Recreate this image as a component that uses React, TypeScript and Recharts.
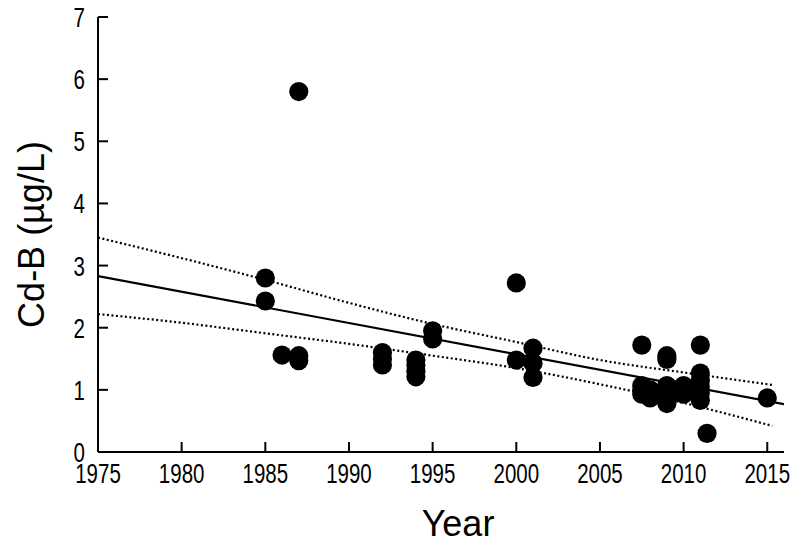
import React from 'react';
import { ComposedChart, Scatter, Line, XAxis, YAxis, Label } from 'recharts';

const pointYears = [
  1985, 1985, 1986, 1987, 1987, 1987,
  1992, 1992, 1992, 1994, 1994, 1994, 1994, 1995, 1995,
  2000, 2000, 2001, 2001, 2001,
  2007.5, 2007.5, 2007.5, 2007.5, 2008, 2008,
  2009, 2009, 2009, 2009, 2009, 2009, 2009.5,
  2010, 2010, 2010,
  2011, 2011, 2011, 2011, 2011, 2011, 2011.4, 2015,
];
const pointValues = [
  2.80, 2.43, 1.56, 5.80, 1.55, 1.47,
  1.60, 1.50, 1.40, 1.48, 1.40, 1.30, 1.21, 1.95, 1.82,
  2.72, 1.48, 1.67, 1.43, 1.20,
  1.72, 1.07, 1.00, 0.93, 1.00, 0.87,
  1.55, 1.49, 1.07, 0.95, 0.85, 0.78, 1.00,
  1.07, 1.00, 0.93,
  1.72, 1.27, 1.15, 1.05, 0.95, 0.83, 0.30, 0.87,
];

const fitYears = [1975, 2016];
const fitValues = [2.83, 0.77];

const bandYears = [1975, 1980, 1985, 1990, 1995, 2000, 2005, 2010, 2015.3];
const upperValues = [3.45, 3.12, 2.77, 2.40, 2.06, 1.77, 1.48, 1.28, 1.08];
const lowerValues = [2.22, 2.08, 1.91, 1.74, 1.55, 1.35, 1.09, 0.79, 0.42];

const xTicks = [1975, 1980, 1985, 1990, 1995, 2000, 2005, 2010, 2015];
const yTicks = [0, 1, 2, 3, 4, 5, 6, 7];

const points = pointYears.map((x, i) => ({ x, y: pointValues[i] }));
const fit = fitYears.map((x, i) => ({ x, y: fitValues[i] }));
const upper = bandYears.map((x, i) => ({ x, y: upperValues[i] }));
const lower = bandYears.map((x, i) => ({ x, y: lowerValues[i] }));

const tickFont = "'Liberation Sans', Arial, sans-serif";
const titleFont = "'Liberation Sans', Arial, sans-serif";
const DIGIT_W = 11.4;

const BottomTick = (props: any) => {
  const { x, y, payload } = props;
  const s = String(payload.value);
  return (
    <g>
      <line x1={x} x2={x} y1={y} y2={y - 10} stroke="#000" strokeWidth={2} />
      <text
        x={x}
        y={y + 31}
        textAnchor="middle"
        fontSize={27}
        fontFamily={tickFont}
        fill="#000"
        textLength={s.length * DIGIT_W}
        lengthAdjust="spacingAndGlyphs"
      >
        {s}
      </text>
    </g>
  );
};

const TopTick = (props: any) => {
  const { x, y } = props;
  return <line x1={x} x2={x} y1={y} y2={y + 10} stroke="#000" strokeWidth={2} />;
};

const LeftTick = (props: any) => {
  const { x, y, payload } = props;
  const s = String(payload.value);
  return (
    <g>
      <line x1={x} x2={x + 10} y1={y} y2={y} stroke="#000" strokeWidth={2} />
      <text
        x={x - 13}
        y={y + 10}
        textAnchor="end"
        fontSize={27}
        fontFamily={tickFont}
        fill="#000"
        textLength={s.length * DIGIT_W}
        lengthAdjust="spacingAndGlyphs"
      >
        {s}
      </text>
    </g>
  );
};

const RightTick = (props: any) => {
  const { x, y } = props;
  return <line x1={x} x2={x - 10} y1={y} y2={y} stroke="#000" strokeWidth={2} />;
};

const Dot = (props: any) => {
  const { cx, cy } = props;
  return <circle cx={cx} cy={cy} r={9.6} fill="#000" />;
};

export default function App() {
  return (
    <div style={{ position: 'absolute', left: 0, top: 0, background: '#fff' }}>
      <ComposedChart width={796} height={548} margin={{ top: 17, right: 12, left: 0, bottom: 0 }}>
        <XAxis
          dataKey="x"
          type="number"
          domain={[1975, 2016]}
          ticks={xTicks}
          interval={0}
          allowDataOverflow
          height={96}
          tickSize={0}
          tickMargin={0}
          tickLine={false}
          tick={<BottomTick />}
          axisLine={{ stroke: '#000', strokeWidth: 2 }}
        >
          <Label
            value="Year"
            position="insideBottom"
            offset={12}
            dx={17}
            style={{ fontSize: 36, fontFamily: titleFont, fill: '#000' }}
          />
        </XAxis>
        <XAxis
          xAxisId="top"
          orientation="top"
          dataKey="x"
          type="number"
          domain={[1975, 2016]}
          ticks={xTicks}
          interval={0}
          allowDataOverflow
          height={0}
          tickSize={0}
          tickMargin={0}
          tickLine={false}
          tick={<TopTick />}
          axisLine={{ stroke: '#000', strokeWidth: 2 }}
        />
        <YAxis
          dataKey="y"
          type="number"
          domain={[0, 7]}
          ticks={yTicks}
          interval={0}
          allowDataOverflow
          width={98}
          tickSize={0}
          tickMargin={0}
          tickLine={false}
          tick={<LeftTick />}
          axisLine={{ stroke: '#000', strokeWidth: 2 }}
        >
          <Label
            value="Cd-B (µg/L)"
            angle={-90}
            position="insideLeft"
            offset={31}
            style={{ fontSize: 36, fontFamily: titleFont, fill: '#000', textAnchor: 'middle' }}
          />
        </YAxis>
        <YAxis
          yAxisId="right"
          orientation="right"
          type="number"
          domain={[0, 7]}
          ticks={yTicks}
          interval={0}
          width={0}
          tickSize={0}
          tickMargin={0}
          tickLine={false}
          tick={<RightTick />}
          axisLine={{ stroke: '#000', strokeWidth: 2 }}
        />
        <Line
          data={upper}
          dataKey="y"
          type="monotone"
          stroke="#000"
          strokeWidth={2.2}
          strokeDasharray="2 2.5"
          dot={false}
          isAnimationActive={false}
        />
        <Line
          data={lower}
          dataKey="y"
          type="monotone"
          stroke="#000"
          strokeWidth={2.2}
          strokeDasharray="2 2.5"
          dot={false}
          isAnimationActive={false}
        />
        <Line
          data={fit}
          dataKey="y"
          type="linear"
          stroke="#000"
          strokeWidth={2.2}
          dot={false}
          isAnimationActive={false}
        />
        <Scatter data={points} dataKey="y" shape={<Dot />} isAnimationActive={false} />
      </ComposedChart>
    </div>
  );
}
